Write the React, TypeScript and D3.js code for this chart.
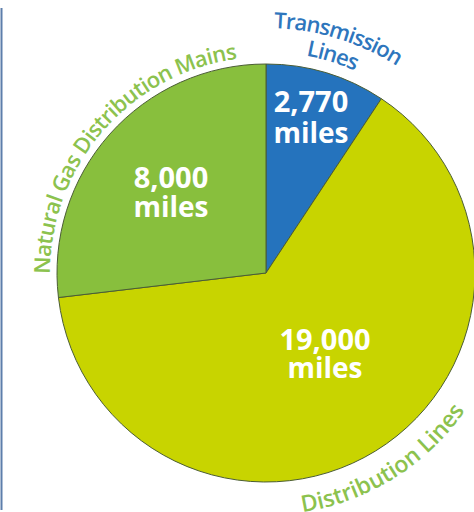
import React from "react";
import * as d3 from "d3";

const categories = ["Transmission Lines", "Distribution Lines", "Natural Gas Distribution Mains"];
const values = [2770, 19000, 8000];
const valueLabels = ["2,770", "19,000", "8,000"];
const unitLabel = "miles";
const sliceColors = ["#2573bd", "#c8d400", "#88bf3d"];

const W = 474;
const H = 512;
const cx = 266;
const cy = 273;
const R = 209;

const deg = Math.PI / 180;
const pt = (a: number, r: number) => [cx + r * Math.sin(a * deg), cy - r * Math.cos(a * deg)];

// arc path centred at mid angle, clockwise or counterclockwise
function arcPath(mid: number, r: number, half: number, cw: boolean) {
  const a0 = cw ? mid - half : mid + half;
  const a1 = cw ? mid + half : mid - half;
  const [x0, y0] = pt(a0, r);
  const [x1, y1] = pt(a1, r);
  const large = half * 2 > 180 ? 1 : 0;
  return `M${x0},${y0} A${r},${r} 0 ${large} ${cw ? 1 : 0} ${x1},${y1}`;
}

export default function App() {
  const pie = d3.pie<number>().sort(null).value((d) => d)(values);
  const arc = d3.arc<d3.PieArcDatum<number>>().innerRadius(0).outerRadius(R);

  const numPos = [
    [311, 112, 143],
    [325, 350, 378],
    [171, 188, 217],
  ];

  const blue = "#2e76bd";
  const green = "#8cc24e";
  const font = "'Open Sans', sans-serif";

  return (
    <svg width={W} height={H} style={{ position: "absolute", left: 0, top: 0 }} fontFamily={font}>
      <rect width={W} height={H} fill="#fff" />
      <line x1={1.5} x2={1.5} y1={8} y2={510} stroke="#5d7eab" strokeWidth={2} />
      <g transform={`translate(${cx},${cy})`}>
        {pie.map((p, i) => (
          <path key={i} d={arc(p) || ""} fill={sliceColors[i]} stroke="#4b5d35" strokeWidth={1} />
        ))}
      </g>
      {pie.map((p, i) => (
        <g key={"l" + i} fill="#fff" fontWeight={700} textAnchor="middle">
          <text x={numPos[i][0]} y={numPos[i][1]} fontSize={29}>{valueLabels[i]}</text>
          <text x={numPos[i][0]} y={numPos[i][2]} fontSize={28}>{unitLabel}</text>
        </g>
      ))}
      <defs>
        <path id="pMains" d={arcPath(-49, 216, 80, true)} />
        <path id="pTrans" d={arcPath(17, 245, 50, true)} />
        <path id="pLines" d={arcPath(17, 221, 40, true)} />
        <path id="pDist" d={arcPath(148, 242, 70, false)} />
      </defs>
      <text fontSize={22} fontWeight={600} fill={green} textAnchor="middle" letterSpacing={-0.6}>
        <textPath href="#pMains" startOffset="50%">{categories[2]}</textPath>
      </text>
      <text fontSize={22} fontWeight={600} fill={blue} textAnchor="middle" letterSpacing={-1}>
        <textPath href="#pTrans" startOffset="50%">Transmission</textPath>
      </text>
      <text fontSize={22} fontWeight={600} fill={blue} textAnchor="middle" letterSpacing={-1}>
        <textPath href="#pLines" startOffset="50%">Lines</textPath>
      </text>
      <text fontSize={23} fontWeight={600} fill={green} textAnchor="middle">
        <textPath href="#pDist" startOffset="50%">{categories[1]}</textPath>
      </text>
    </svg>
  );
}
